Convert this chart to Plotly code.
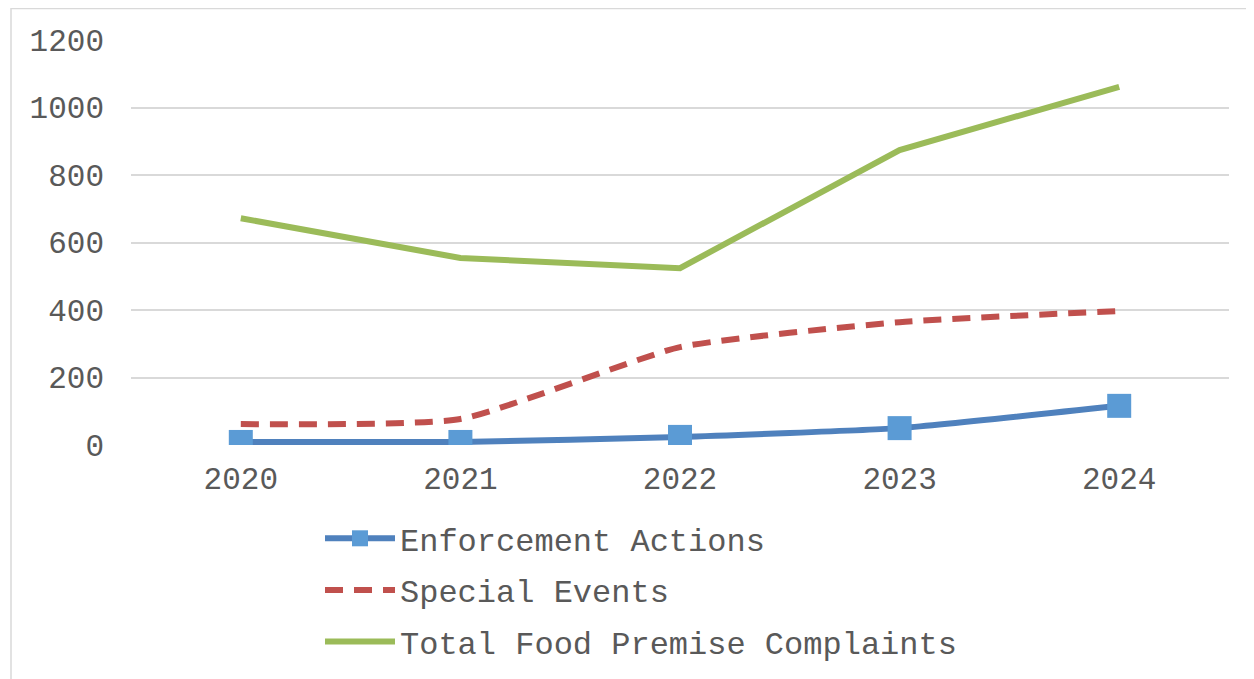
import plotly.graph_objects as go

years = ["2020", "2021", "2022", "2023", "2024"]
enforcement = [9, 9, 24, 50, 116]
special_events = [62, 77, 290, 364, 397]
total_complaints = [672, 554, 524, 874, 1061]

OFF = 8  # page body margin
W, H = 1254 - OFF, 679 - OFF
L, T = 131 - OFF, 40 - OFF
R = W - (1229 - OFF)
B = H - (445 - OFF)
pw, ph = W - L - R, H - T - B

FONT = "Courier New, Liberation Mono, monospace"
GREY = "#595959"

fig = go.Figure()
fig.add_trace(go.Scatter(
    x=years, y=enforcement, name="Enforcement Actions", mode="lines+markers",
    line=dict(color="#4F81BD", width=6, shape="spline", smoothing=0.4),
    marker=dict(symbol="square", size=24, color="#5B9BD5", line=dict(width=0)),
    legendgroup="a",
))
fig.add_trace(go.Scatter(
    x=years, y=special_events, name="Special Events", mode="lines",
    line=dict(color="#C0504D", width=6, dash="18px,11px", shape="spline", smoothing=0.5),
    legendgroup="b",
))
fig.add_trace(go.Scatter(
    x=years, y=total_complaints, name="Total Food Premise Complaints", mode="lines",
    line=dict(color="#9BBB59", width=6),
    legendgroup="c",
))

def px_x(x):  # screen pixel -> paper
    return (x - OFF - L) / pw

def px_y(y):
    return (H - B - (y - OFF)) / ph

fig.add_shape(type="rect", xref="paper", yref="paper",
              x0=px_x(11), x1=px_x(1300), y0=px_y(720), y1=px_y(8.5),
              line=dict(color="#D9D9D9", width=1.5), fillcolor="rgba(0,0,0,0)", layer="below")

fig.update_layout(
    width=W, height=H,
    margin=dict(l=L, r=R, t=T, b=B, pad=0, autoexpand=False),
    paper_bgcolor="white", plot_bgcolor="white",
    font=dict(family=FONT, color=GREY, size=31),
    showlegend=True,
    legend=dict(
        orientation="v", x=px_x(320), xanchor="left", y=px_y(511), yanchor="top",
        font=dict(family=FONT, size=32, color=GREY),
        tracegroupgap=7, itemwidth=70, bgcolor="rgba(0,0,0,0)",
    ),
    xaxis=dict(
        type="category", showgrid=False, showline=False, zeroline=False,
        ticks="", tickfont=dict(family=FONT, size=31, color=GREY),
        ticklabelstandoff=12, range=[-0.5, 4.5], automargin=False,
    ),
    yaxis=dict(
        range=[0, 1200], dtick=200, showgrid=True, gridcolor="#D9D9D9", gridwidth=1.5,
        zeroline=False, showline=False, ticks="", automargin=False,
        tickfont=dict(family=FONT, size=31, color=GREY), ticklabelstandoff=26,
    ),
)

fig.write_html("out.html")
